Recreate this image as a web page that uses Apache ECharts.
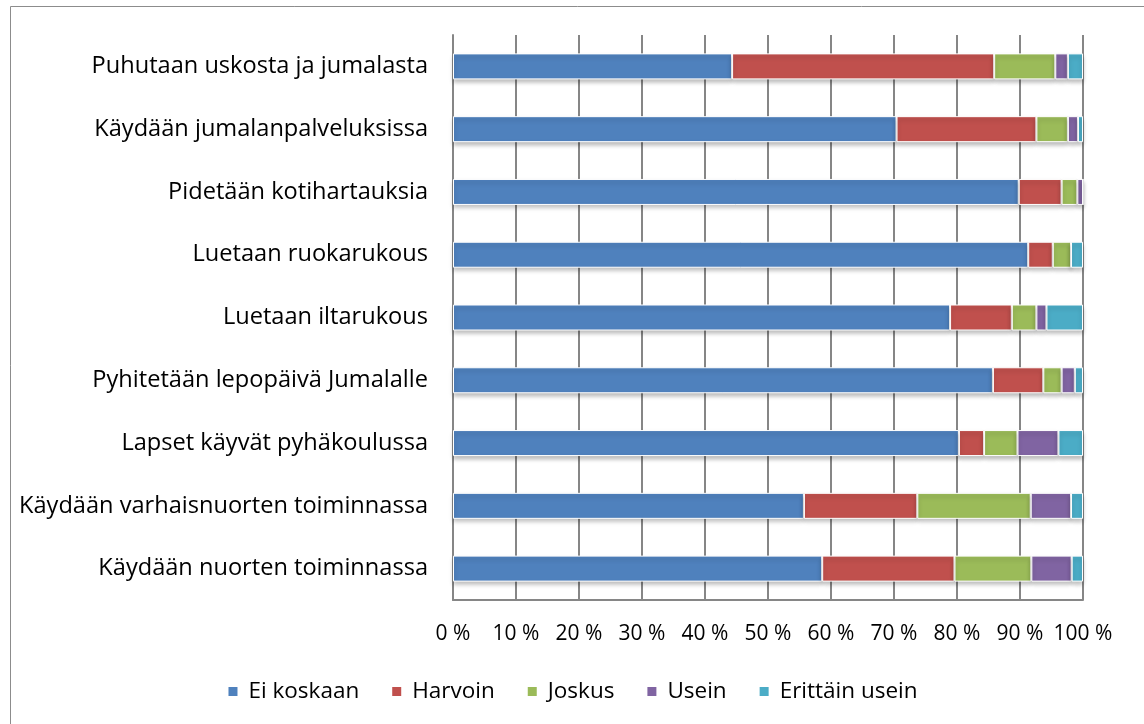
<!DOCTYPE html>
<html>
<head>
<meta charset="utf-8">
<script src="https://cdn.jsdelivr.net/npm/echarts@6/dist/echarts.min.js"></script>
<style>
  html, body { margin: 0; padding: 0; background: #fff; }
  #chart { width: 1144px; height: 724px; }
</style>
</head>
<body>
<div id="chart"></div>
<script>
// categories, top to bottom
const categories = [
  'Puhutaan uskosta ja jumalasta',
  'Käydään jumalanpalveluksissa',
  'Pidetään kotihartauksia',
  'Luetaan ruokarukous',
  'Luetaan iltarukous',
  'Pyhitetään lepopäivä Jumalalle',
  'Lapset käyvät pyhäkoulussa',
  'Käydään varhaisnuorten toiminnassa',
  'Käydään nuorten toiminnassa'
];

const seriesNames = ['Ei koskaan', 'Harvoin', 'Joskus', 'Usein', 'Erittäin usein'];

// percentages
const eiKoskaan     = [44.3, 70.4, 89.8, 91.3, 78.9, 85.7, 80.3, 55.7, 58.6];
const harvoin       = [41.6, 22.2,  6.8,  3.9,  9.8,  8.0,  4.0, 18.0, 21.0];
const joskus        = [ 9.7,  5.0,  2.5,  2.9,  3.9,  2.9,  5.3, 18.0, 12.2];
const usein         = [ 2.0,  1.6,  0.9,  0.0,  1.6,  2.1,  6.5,  6.4,  6.4];
const erittainUsein = [ 2.4,  0.8,  0.0,  1.9,  5.8,  1.3,  3.9,  1.9,  1.8];

const xTicks = [0, 10, 20, 30, 40, 50, 60, 70, 80, 90, 100];

const colors = ['#4F81BD', '#C0504D', '#9BBB59', '#8064A2', '#4BACC6'];
const values = [eiKoskaan, harvoin, joskus, usein, erittainUsein];

const font = 'Open Sans';

var chart = echarts.init(document.getElementById('chart'), null, { renderer: 'canvas' });

var series = seriesNames.map((name, i) => ({
  name: name,
  type: 'bar',
  stack: 'total',
  barWidth: 26,
  itemStyle: {
    color: colors[i],
    borderColor: '#fff',
    borderWidth: 1,
    shadowColor: 'rgba(0,0,0,0.25)',
    shadowBlur: 4,
    shadowOffsetY: 3
  },
  emphasis: { disabled: true },
  data: values[i]
}));

var option = {
  animation: false,
  color: colors,
  textStyle: { fontFamily: font },
  graphic: [{
    type: 'rect',
    shape: { x: 10.5, y: 6.5, width: 1200, height: 800 },
    style: { fill: 'none', stroke: '#8c8c8c', lineWidth: 1 },
    silent: true
  }],
  grid: {
    left: 453,
    right: 61,
    top: 35,
    bottom: 124,
    containLabel: false
  },
  xAxis: {
    type: 'value',
    min: xTicks[0],
    max: xTicks[xTicks.length - 1],
    interval: 10,
    axisLine: { show: true, lineStyle: { color: '#868686', width: 2 } },
    axisTick: { show: false },
    splitLine: { show: true, lineStyle: { color: '#868686', width: 2 } },
    axisLabel: {
      formatter: '{value} %',
      fontFamily: font,
      fontSize: 21,
      color: '#000',
      margin: 24
    }
  },
  yAxis: {
    type: 'category',
    inverse: true,
    data: categories,
    axisLine: { show: true, lineStyle: { color: '#868686', width: 2 } },
    axisTick: { show: false },
    axisLabel: {
      fontFamily: font,
      fontSize: 23.6,
      color: '#000',
      margin: 25
    }
  },
  legend: {
    top: 675,
    left: 'center',
    itemWidth: 11,
    itemHeight: 11,
    itemGap: 31,
    icon: 'rect',
    textStyle: { fontFamily: font, fontSize: 22.5, color: '#000', padding: [0, 0, 0, 5] },
    data: seriesNames
  },
  series: series
};

chart.setOption(option);
</script>
</body>
</html>
